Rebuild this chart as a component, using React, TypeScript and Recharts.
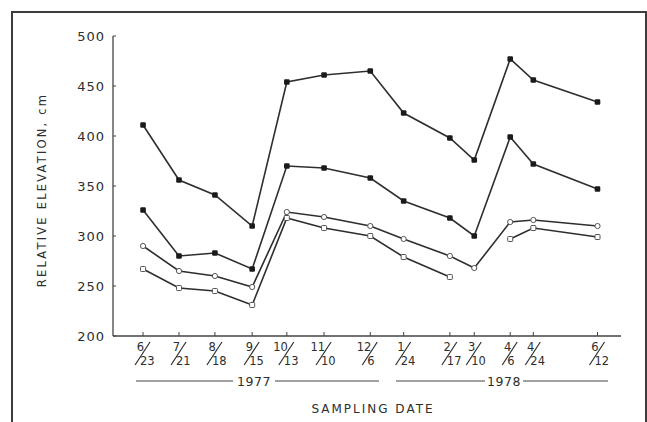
import React from "react";
import { Label, Line, LineChart, XAxis, YAxis } from "recharts";

const dateLabels = ["6/23", "7/21", "8/18", "9/15", "10/13", "11/10", "12/6", "1/24", "2/17", "3/10", "4/6", "4/24", "6/12"];
// sampling positions along the time axis, in days after 6/23/77 (as drawn)
const dayPos = [0, 28, 56, 85, 112, 141, 177, 203, 239, 258, 286, 304, 354];
const seriesA = [411, 356, 341, 310, 454, 461, 465, 423, 398, 376, 477, 456, 434];
const seriesB = [326, 280, 283, 267, 370, 368, 358, 335, 318, 300, 399, 372, 347];
const seriesC = [290, 265, 260, 249, 324, 319, 310, 297, 280, 268, 314, 316, 310];
const seriesD = [267, 248, 245, 231, 318, 308, 300, 279, 259, null, 297, 308, 299];
const yTicks = [200, 250, 300, 350, 400, 450, 500];

const data = dayPos.map((day, i) => ({
  day,
  a: seriesA[i],
  b: seriesB[i],
  c: seriesC[i],
  d: seriesD[i],
}));

const INK = "#2e2e2e";
const FONT = "'DejaVu Sans', sans-serif";

function FilledDot(props: any) {
  const { cx, cy, index } = props;
  if (cx == null || cy == null) return <g key={index} />;
  return <rect key={index} x={cx - 2.8} y={cy - 2.8} width={5.6} height={5.6} rx={1.2} fill="#1a1a1a" />;
}

function OpenCircle(props: any) {
  const { cx, cy, index } = props;
  if (cx == null || cy == null) return <g key={index} />;
  return <circle key={index} cx={cx} cy={cy} r={2.6} fill="#fff" stroke="#555" strokeWidth={1} />;
}

function OpenSquare(props: any) {
  const { cx, cy, index, value } = props;
  if (cx == null || cy == null || value == null) return <g key={index} />;
  return <rect key={index} x={cx - 2.5} y={cy - 2.5} width={5} height={5} rx={0.8} fill="#fff" stroke="#555" strokeWidth={1} />;
}

function DateTick(props: any) {
  const { x, y, payload, index } = props;
  const i = dayPos.indexOf(payload.value);
  const [num, den] = (dateLabels[i >= 0 ? i : index] || "").split("/");
  const ay = y; // axis line
  return (
    <g fill={INK} style={{ fontFamily: FONT, fontSize: 11.5 }}>
      <line x1={x} x2={x} y1={ay - 4} y2={ay} stroke="#444" strokeWidth={1} />
      <text x={x + 1} y={ay + 15} textAnchor="end">{num}</text>
      <line x1={x + 7} y1={ay + 6} x2={x - 8} y2={ay + 29} stroke={INK} strokeWidth={1.2} />
      <text x={x - 3} y={ay + 29} textAnchor="start">{den}</text>
    </g>
  );
}

function ValueTick(props: any) {
  const { x, y, payload } = props;
  return (
    <g>
      <line x1={x + 8} x2={x + 11} y1={y} y2={y} stroke="#444" strokeWidth={1} />
      <text x={x} y={y + 4.5} textAnchor="end" fill={INK} style={{ fontFamily: FONT, fontSize: 13, letterSpacing: 1 }}>
        {payload.value}
      </text>
    </g>
  );
}

function BottomLabels(props: any) {
  const { viewBox } = props;
  const top = viewBox.y; // axis line
  const ry = top + 45;
  const lineStyle = { stroke: "#444", strokeWidth: 1.1 };
  const txt = { fontFamily: FONT, fontSize: 12.5, letterSpacing: 0.5 };
  return (
    <g fill={INK}>
      <line x1={136} x2={233} y1={ry} y2={ry} {...lineStyle} />
      <text x={254} y={ry + 4.5} textAnchor="middle" style={txt}>1977</text>
      <line x1={275} x2={379} y1={ry} y2={ry} {...lineStyle} />
      <line x1={396} x2={485} y1={ry} y2={ry} {...lineStyle} />
      <text x={504} y={ry + 4.5} textAnchor="middle" style={txt}>1978</text>
      <line x1={523} x2={608} y1={ry} y2={ry} {...lineStyle} />
      <text x={373} y={top + 77} textAnchor="middle" style={{ fontFamily: FONT, fontSize: 12, letterSpacing: 2 }}>
        SAMPLING DATE
      </text>
    </g>
  );
}

function SideLabel(props: any) {
  const { viewBox } = props;
  const cy = viewBox.y + viewBox.height / 2 + 4;
  return (
    <text
      x={46}
      y={cy}
      transform={`rotate(-90 46 ${cy})`}
      textAnchor="middle"
      fill={INK}
      style={{ fontFamily: FONT, fontSize: 11.5, letterSpacing: 2.2 }}
    >
      RELATIVE ELEVATION, cm
    </text>
  );
}

export default function App() {
  return (
    <div style={{ position: "absolute", left: 0, top: 0, width: 647, height: 422, background: "#fff", overflow: "hidden" }}>
      <div
        style={{
          position: "absolute",
          left: 11,
          top: 11,
          width: 632,
          height: 430,
          border: "2px solid #3c3c3c",
        }}
      />
      <LineChart width={647} height={422} data={data} margin={{ top: 36, right: 26, bottom: 26, left: 0 }}>
        <XAxis
          dataKey="day"
          type="number"
          domain={[-23.4, 372.3]}
          ticks={dayPos}
          interval={0}
          height={60}
          tickLine={false}
          tickSize={0}
          tickMargin={0}
          stroke="#444"
          strokeWidth={1.3}
          tick={<DateTick />}
        >
          <Label content={<BottomLabels />} />
        </XAxis>
        <YAxis
          type="number"
          domain={[200, 500]}
          ticks={yTicks}
          width={113}
          tickLine={false}
          tickSize={0}
          tickMargin={8}
          stroke="#444"
          strokeWidth={1.3}
          tick={<ValueTick />}
        >
          <Label content={<SideLabel />} />
        </YAxis>
        <Line dataKey="a" stroke={INK} strokeWidth={1.6} dot={FilledDot} isAnimationActive={false} />
        <Line dataKey="b" stroke={INK} strokeWidth={1.6} dot={FilledDot} isAnimationActive={false} />
        <Line dataKey="c" stroke={INK} strokeWidth={1.6} dot={OpenCircle} isAnimationActive={false} />
        <Line dataKey="d" stroke={INK} strokeWidth={1.6} dot={OpenSquare} isAnimationActive={false} />
      </LineChart>
    </div>
  );
}
